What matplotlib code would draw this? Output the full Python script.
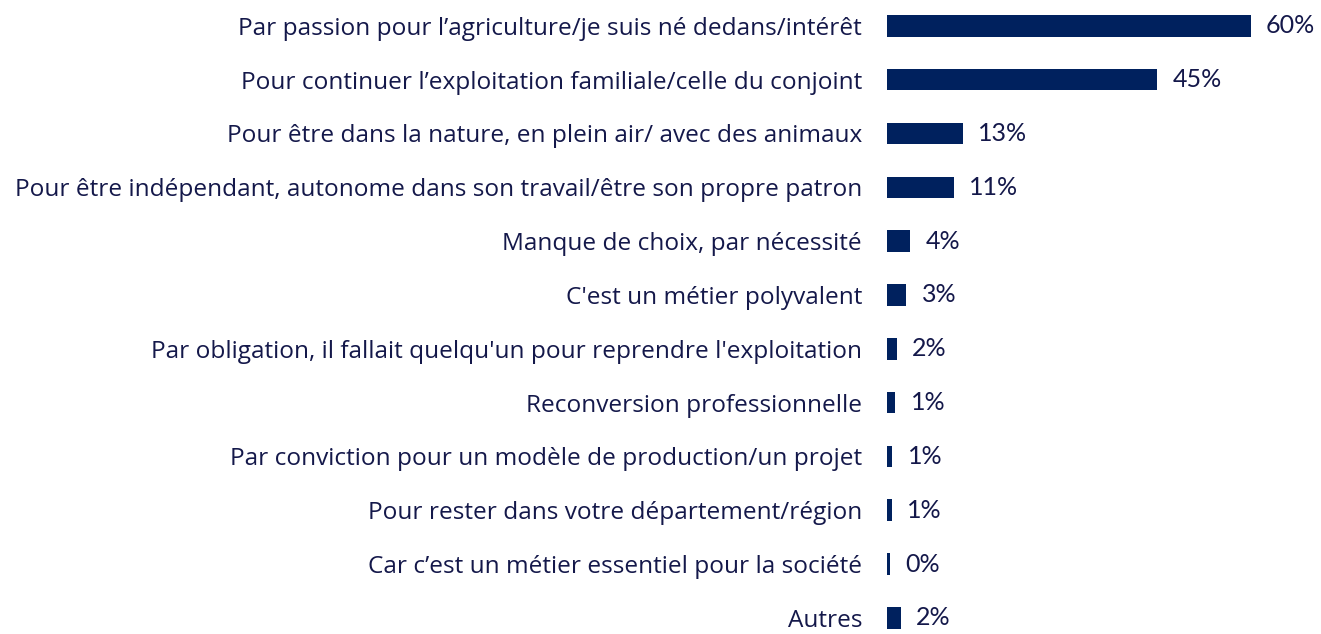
import matplotlib
matplotlib.use("Agg")
import matplotlib.pyplot as plt

labels = [
    "Par passion pour l\u2019agriculture/je suis né dedans/intérêt",
    "Pour continuer l\u2019exploitation familiale/celle du conjoint",
    "Pour être dans la nature, en plein air/ avec des animaux",
    "Pour être indépendant, autonome dans son travail/être son propre patron",
    "Manque de choix, par nécessité",
    "C'est un métier polyvalent",
    "Par obligation, il fallait quelqu'un pour reprendre l'exploitation",
    "Reconversion professionnelle",
    "Par conviction pour un modèle de production/un projet",
    "Pour rester dans votre département/région",
    "Car c\u2019est un métier essentiel pour la société",
    "Autres",
]
values = [60.0, 44.6, 12.5, 11.0, 3.8, 3.2, 1.6, 1.4, 0.9, 0.85, 0.55, 2.3]
value_labels = ["60%", "45%", "13%", "11%", "4%", "3%", "2%", "1%", "1%", "1%", "0%", "2%"]

bar_color = "#00215e"
text_color = "#14184a"

plt.rcParams['font.family'] = ['Open Sans', 'DejaVu Sans']

fig = plt.figure(figsize=(13.21, 6.34), dpi=100)
ax = fig.add_axes([887 / 1321, 0.0, 1 - 887 / 1321, 1.0])

y = list(range(len(labels)))
ax.barh(y, values, height=0.4, color=bar_color)
ax.set_ylim(11.3, -0.48)
ax.set_xlim(0, 71.6)

ax.set_yticks(y)
ax.set_yticklabels(labels, fontsize=17.6, color=text_color)
ax.tick_params(axis='y', length=0, pad=18)
ax.set_xticks([])

# value labels to the right of each bar
for yi, v, t in zip(y, values, value_labels):
    ax.annotate(t, (v, yi), xytext=(11, 0), textcoords="offset points",
                va="center", ha="left", fontsize=18, color=text_color,
                family=['Lato', 'DejaVu Sans'])

for s in ax.spines.values():
    s.set_visible(False)

fig.savefig("out.png", dpi=100)
